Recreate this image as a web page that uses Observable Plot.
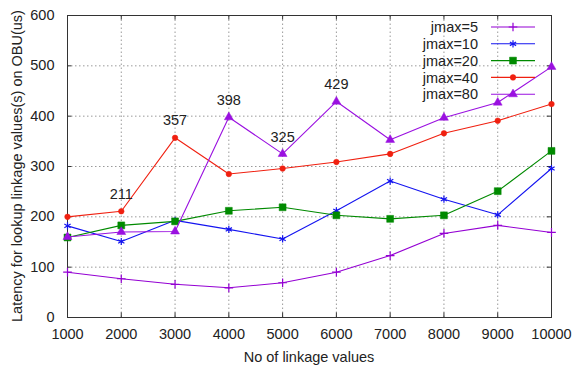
<!DOCTYPE html>
<html>
<head>
<meta charset="utf-8">
<script src="https://cdn.jsdelivr.net/npm/d3@7"></script>
<script src="https://cdn.jsdelivr.net/npm/@observablehq/plot@0.6"></script>
<style>
  html, body { margin: 0; padding: 0; background: #fff; }
  #chart { width: 573px; height: 367px; }
</style>
</head>
<body>
<div id="chart"></div>
<script>
// ---- data ----
const linkageValues = [1000, 2000, 3000, 4000, 5000, 6000, 7000, 8000, 9000, 10000];
const yTicks = [0, 100, 200, 300, 400, 500, 600];
const seriesNames = ["jmax=5", "jmax=10", "jmax=20", "jmax=40", "jmax=80"];
const jmax5  = [90, 77, 66, 59, 69, 90, 123, 167, 183, 169];
const jmax10 = [182, 151, 193, 175, 156, 212, 271, 235, 204, 296];
const jmax20 = [159, 183, 191, 212, 219, 203, 196, 203, 251, 331];
const jmax40 = [200, 211, 357, 285, 296, 309, 325, 366, 391, 424];
const jmax80 = [160, 170, 171, 398, 325, 429, 353, 397, 427, 498];
const annotated = [
  {series: "jmax=40", x: 2000, y: 211},
  {series: "jmax=40", x: 3000, y: 357},
  {series: "jmax=80", x: 4000, y: 398},
  {series: "jmax=80", x: 5000, y: 325},
  {series: "jmax=80", x: 6000, y: 429}
];

// ---- styles ----
const seriesValues = [jmax5, jmax10, jmax20, jmax40, jmax80];
const colors  = ["#9400d3", "#1414f0", "#008a00", "#f02010", "#9a10e0"];
const symbols = ["plus", "asterisk", "square", "circle", "triangle"];
const radii   = [2.9, 3.4, 3.9, 2.8, 3.3];
const filled  = [false, false, true, true, true];
const font = "'Liberation Sans', Arial, sans-serif";
const fs = 14.5;

const rows = [];
seriesNames.forEach((name, i) => {
  seriesValues[i].forEach((v, j) => rows.push({series: name, x: linkageValues[j], y: v, i}));
});

const marks = [
  Plot.ruleX(linkageValues, {x: d => d, y1: 0, y2: 600, stroke: "#9a9a9a", strokeWidth: 1, strokeDasharray: "1.5,2.5"}),
  Plot.ruleY(yTicks, {y: d => d, x1: 1000, x2: 10000, stroke: "#9a9a9a", strokeWidth: 1, strokeDasharray: "1.5,2.5"}),
  // inward ticks (gnuplot style)
  Plot.ruleX(linkageValues, {x: d => d, y1: 0, y2: 9, stroke: "#333"}),
  Plot.ruleX(linkageValues, {x: d => d, y1: 600, y2: 591, stroke: "#333"}),
  Plot.ruleY(yTicks, {y: d => d, x1: 1000, x2: 1080, stroke: "#333"}),
  Plot.ruleY(yTicks, {y: d => d, x1: 10000, x2: 9920, stroke: "#333"}),
  Plot.axisX({ticks: linkageValues, tickSize: 0, tickPadding: 11, tickFormat: d => String(d),
    fontSize: fs, fill: "#222", label: null}),
  Plot.axisY({ticks: yTicks, tickSize: 0, tickPadding: 13, tickFormat: d => String(d),
    fontSize: fs, fill: "#222", label: null}),
  Plot.frame({stroke: "#333", strokeWidth: 1})
];
seriesNames.forEach((name, i) => {
  const data = rows.filter(r => r.series === name);
  marks.push(Plot.line(data, {x: "x", y: "y", stroke: colors[i], strokeWidth: 1.1}));
  marks.push(Plot.dot(data, {
    x: "x", y: "y", symbol: () => symbols[i], r: radii[i],
    fill: filled[i] ? colors[i] : "none",
    stroke: colors[i], strokeWidth: filled[i] ? 0.5 : 1.2
  }));
});
marks.push(Plot.text(annotated, {x: "x", y: "y", text: d => String(d.y), dy: -17,
  fontSize: fs, fill: "#222", fontFamily: font}));

const chart = Plot.plot({
  width: 573, height: 367,
  marginLeft: 67, marginRight: 22, marginTop: 15, marginBottom: 50,
  style: {fontFamily: font, fontSize: fs + "px", background: "#fff", color: "#222"},
  x: {type: "linear", domain: [1000, 10000]},
  y: {domain: [0, 600]},
  marks
});
document.getElementById("chart").appendChild(chart);

// ---- axis titles & legend ----
const svg = d3.select(chart);
svg.append("text")
  .attr("x", 309).attr("y", 362)
  .attr("text-anchor", "middle")
  .style("font-family", font).style("font-size", fs + "px").attr("fill", "#222")
  .text("No of linkage values");
svg.append("text")
  .attr("transform", "translate(22,166) rotate(-90)")
  .attr("text-anchor", "middle")
  .style("font-family", font).style("font-size", fs + "px").attr("fill", "#222")
  .text("Latency for lookup linkage values(s) on OBU(us)");

const symType = {plus: d3.symbolPlus, asterisk: d3.symbolAsterisk || d3.symbolCross,
  square: d3.symbolSquare, circle: d3.symbolCircle, triangle: d3.symbolTriangle};
const lg = svg.append("g");
seriesNames.forEach((name, i) => {
  const y = 27 + i * 16.8;
  lg.append("text").attr("x", 478).attr("y", y).attr("dy", "0.36em")
    .attr("text-anchor", "end")
    .style("font-family", font).style("font-size", fs + "px").attr("fill", "#222")
    .text(name);
  lg.append("line").attr("x1", 491).attr("x2", 535).attr("y1", y).attr("y2", y)
    .attr("stroke", colors[i]).attr("stroke-width", 1.1);
  lg.append("path")
    .attr("transform", `translate(513,${y})`)
    .attr("d", d3.symbol(symType[symbols[i]], Math.PI * radii[i] * radii[i])())
    .attr("fill", filled[i] ? colors[i] : "none")
    .attr("stroke", colors[i]).attr("stroke-width", filled[i] ? 0.5 : 1.2);
});
</script>
</body>
</html>
